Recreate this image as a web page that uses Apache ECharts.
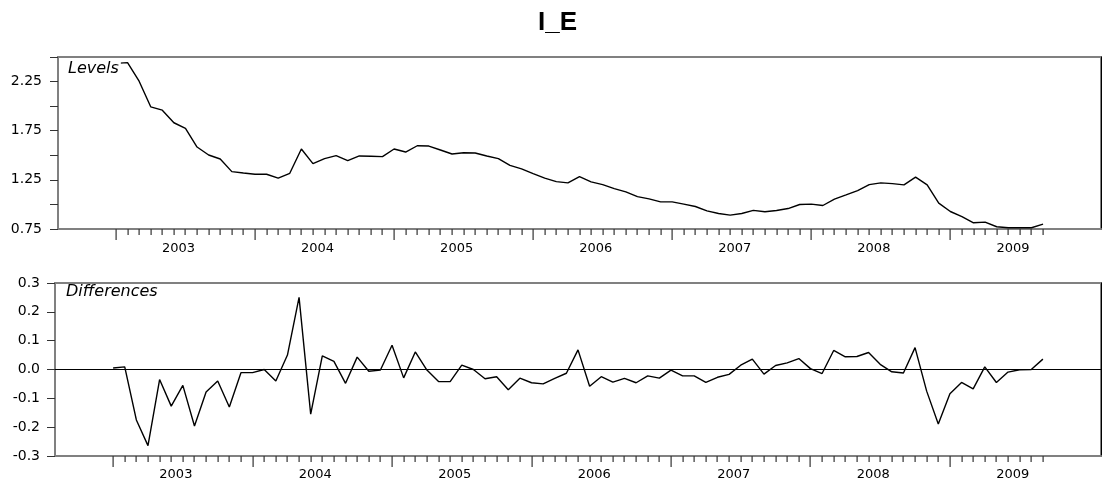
<!DOCTYPE html>
<html>
<head>
<meta charset="utf-8">
<script src="https://cdn.jsdelivr.net/npm/echarts@6.0.0/dist/echarts.min.js"></script>
<style>
  html, body { margin: 0; padding: 0; background: #fff; }
  #main { width: 1104px; height: 483px; }
</style>
</head>
<body>
<div id="main"></div>
<script>
// monthly data, Jan 2003 .. Sep 2009
const levels = [
  2.435, 2.443, 2.254, 1.993, 1.959, 1.831, 1.774, 1.584, 1.503, 1.462, 1.334, 1.320,
  1.307, 1.307, 1.267, 1.317, 1.564, 1.415, 1.466, 1.496, 1.445, 1.493, 1.490, 1.486,
  1.564, 1.533, 1.597, 1.594, 1.554, 1.513, 1.526, 1.523, 1.493, 1.466, 1.398, 1.361,
  1.313, 1.267, 1.232, 1.219, 1.283, 1.229, 1.202, 1.161, 1.128, 1.080, 1.057, 1.026,
  1.026, 1.003, 0.979, 0.935, 0.908, 0.891, 0.908, 0.940, 0.925, 0.938, 0.958, 0.999,
  1.003, 0.989, 1.054, 1.097, 1.141, 1.202, 1.219, 1.212, 1.199, 1.277, 1.199, 1.013,
  0.928, 0.877, 0.813, 0.820, 0.773, 0.763, 0.763, 0.763, 0.800
];
const diffs = [
  0.005, 0.009, -0.175, -0.264, -0.035, -0.127, -0.055, -0.196, -0.078, -0.040, -0.130, -0.011,
  -0.011, 0.000, -0.040, 0.050, 0.250, -0.155, 0.047, 0.028, -0.048, 0.043, -0.006, -0.002,
  0.084, -0.029, 0.061, -0.002, -0.042, -0.042, 0.015, 0.000, -0.032, -0.025, -0.070, -0.030,
  -0.046, -0.050, -0.031, -0.013, 0.068, -0.058, -0.025, -0.044, -0.031, -0.046, -0.022, -0.030,
  -0.002, -0.022, -0.022, -0.045, -0.027, -0.017, 0.015, 0.036, -0.016, 0.014, 0.023, 0.038,
  0.003, -0.014, 0.066, 0.044, 0.045, 0.059, 0.018, -0.008, -0.012, 0.076, -0.075, -0.189,
  -0.084, -0.045, -0.067, 0.009, -0.045, -0.009, -0.001, 0.000, 0.036
];
const yearLabels = ['2003', '2004', '2005', '2006', '2007', '2008', '2009'];
const levelTicks = [0.75, 1.25, 1.75, 2.25];

const font = 'DejaVu Sans';
const frameGray = '#808080';
const tickColor = '#333';
const levMin = 0.75, levMax = 2.5;
const difMin = -0.3, difMax = 0.3;

let yearLabelPos = yearLabels.map((y, k) => k * 12 + 5.4);

// month ticks under the frame, year ticks longer
function tickSeries(xi, yi, yBase) {
  return {
    type: 'custom', xAxisIndex: xi, yAxisIndex: yi, silent: true, clip: false, z: 5,
    data: levels.map((v, i) => [i, yBase]),
    renderItem: function (params, api) {
      let m = api.value(0);
      let p = api.coord([m, api.value(1)]);
      let len = (m % 12 === 0) ? 11 : 6;
      return {
        type: 'rect',
        shape: { x: Math.round(p[0]) - 0.5, y: Math.round(p[1]), width: 1.2, height: len },
        style: { fill: tickColor }
      };
    }
  };
}

function xAxis(gridIndex, margin) {
  return {
    type: 'value', gridIndex: gridIndex, position: 'bottom', min: -5, max: 85,
    splitLine: { show: false },
    axisLine: { show: true, onZero: false, lineStyle: { color: frameGray, width: 2 } },
    axisTick: { show: false },
    axisLabel: {
      show: true, margin: margin, customValues: yearLabelPos,
      fontFamily: font, fontSize: 13, color: '#000',
      formatter: function (v) { return yearLabels[Math.round((v - 5.4) / 12)]; }
    }
  };
}

let chart = echarts.init(document.getElementById('main'));
chart.setOption({
  animation: false,
  backgroundColor: '#fff',
  title: {
    text: 'I_E', left: 533, top: 5,
    textStyle: { fontFamily: 'Liberation Sans', fontWeight: 'bold', fontSize: 26, color: '#000' }
  },
  grid: [
    { left: 58, top: 57, width: 1043, height: 172, show: true, borderColor: frameGray, borderWidth: 2 },
    { left: 55, top: 283, width: 1046, height: 173, show: true, borderColor: frameGray, borderWidth: 2 }
  ],
  xAxis: [xAxis(0, 13), xAxis(1, 12)],
  yAxis: [
    {
      type: 'value', gridIndex: 0, position: 'left', min: levMin, max: levMax, interval: 0.25,
      splitLine: { show: false },
      axisLine: { show: true, onZero: false, lineStyle: { color: frameGray, width: 2 } },
      axisTick: { show: true, length: 8, lineStyle: { color: tickColor } },
      axisLabel: {
        margin: 16, customValues: levelTicks, fontFamily: font, fontSize: 14, color: '#000',
        formatter: function (v) { return v.toFixed(2); }
      }
    },
    {
      type: 'value', gridIndex: 1, position: 'left', min: difMin, max: difMax, interval: 0.1,
      splitLine: { show: false },
      axisLine: { show: true, onZero: false, lineStyle: { color: frameGray, width: 2 } },
      axisTick: { show: true, length: 8, lineStyle: { color: tickColor } },
      axisLabel: {
        margin: 15, fontFamily: font, fontSize: 14, color: '#000',
        formatter: function (v) { return v.toFixed(1); }
      }
    },
    // right edge of each frame is drawn dark
    {
      type: 'value', gridIndex: 0, position: 'right', min: levMin, max: levMax,
      splitLine: { show: false }, axisTick: { show: false }, axisLabel: { show: false },
      axisLine: { show: true, onZero: false, lineStyle: { color: '#000', width: 1 } }
    },
    {
      type: 'value', gridIndex: 1, position: 'right', min: difMin, max: difMax,
      splitLine: { show: false }, axisTick: { show: false }, axisLabel: { show: false },
      axisLine: { show: true, onZero: false, lineStyle: { color: '#000', width: 1 } }
    }
  ],
  series: [
    {
      type: 'line', xAxisIndex: 0, yAxisIndex: 0, symbol: 'none',
      lineStyle: { color: '#000', width: 1.4 },
      data: levels.map((v, i) => [i, v])
    },
    {
      type: 'line', xAxisIndex: 1, yAxisIndex: 1, symbol: 'none',
      lineStyle: { color: '#000', width: 1.4 },
      data: diffs.map((v, i) => [i, v]),
      markLine: {
        silent: true, symbol: ['none', 'none'], label: { show: false },
        lineStyle: { color: '#000', width: 1, type: 'solid' },
        data: [{ yAxis: 0 }]
      }
    },
    tickSeries(0, 0, levMin),
    tickSeries(1, 1, difMin)
  ],
  graphic: [
    {
      type: 'text', left: 66, top: 60, z: 100,
      style: {
        text: 'Levels', font: 'italic 16px "DejaVu Sans"', fill: '#000',
        backgroundColor: '#fff', padding: [1, 2, 1, 2]
      }
    },
    {
      type: 'text', left: 64, top: 284, z: 100,
      style: {
        text: 'Differences', font: 'italic 16px "DejaVu Sans"', fill: '#000',
        backgroundColor: '#fff', padding: [0, 2, 0, 2]
      }
    }
  ]
});
</script>
</body>
</html>
